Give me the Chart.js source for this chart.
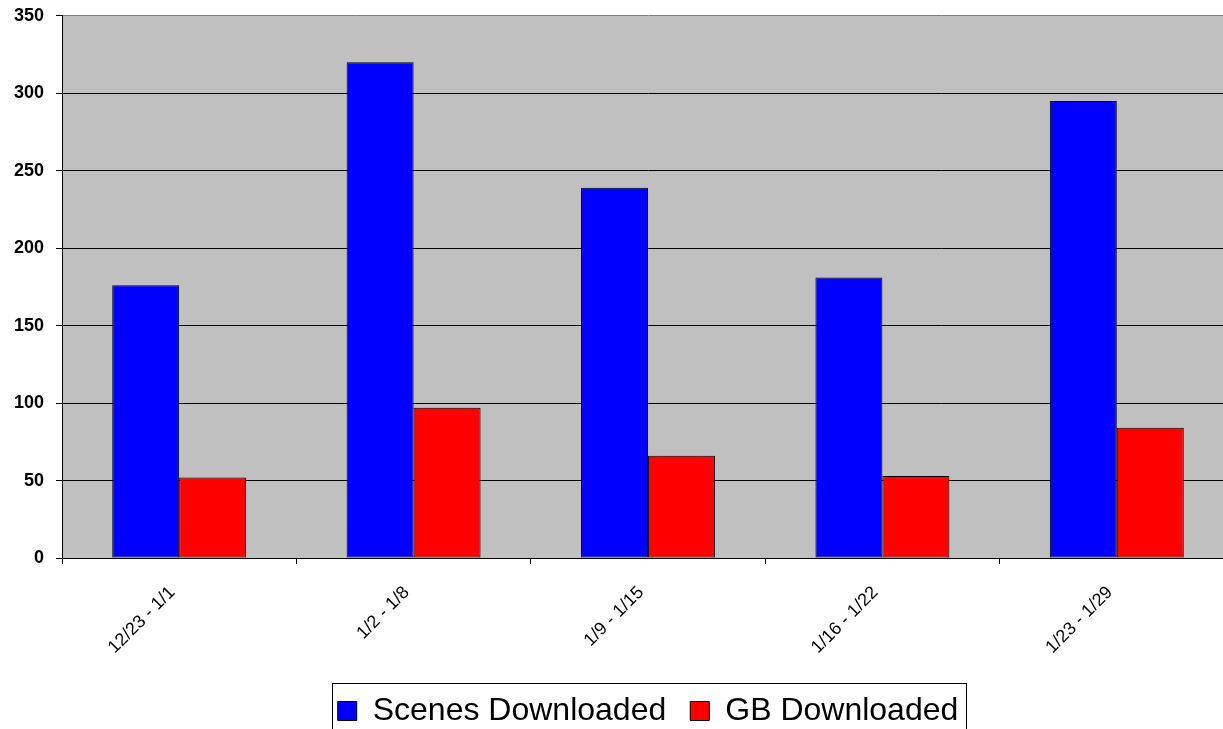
<!DOCTYPE html>
<html>
<head>
<meta charset="utf-8">
<script src="https://cdn.jsdelivr.net/npm/chart.js@4/dist/chart.umd.min.js"></script>
<style>
  html, body { margin: 0; padding: 0; background: #fff; overflow: hidden; }
  #wrap { position: relative; width: 1234px; height: 744px; margin-top: -7px; }
</style>
</head>
<body>
<div id="wrap"><canvas id="c"></canvas></div>
<script>
const categories = ["12/23 - 1/1", "1/2 - 1/8", "1/9 - 1/15", "1/16 - 1/22", "1/23 - 1/29"];
const scenesDownloaded = [176, 320, 239, 181, 295];
const gbDownloaded = [52, 97, 66, 53, 84];
const seriesNames = ["Scenes Downloaded", "GB Downloaded"];

const FONT = "'Liberation Sans', Arial, sans-serif";

const plotBg = {
  id: 'plotBg',
  beforeDraw(chart) {
    const {ctx, chartArea: a} = chart;
    ctx.save();
    ctx.fillStyle = '#C0C0C0';
    ctx.fillRect(a.left, a.top, a.right - a.left, a.bottom - a.top);
    ctx.restore();
  }
};

const legendBorder = {
  id: 'legendBorder',
  afterDraw(chart) {
    const lg = chart.legend;
    if (!lg || !lg.legendHitBoxes || !lg.legendHitBoxes.length) return;
    const hb = lg.legendHitBoxes;
    const left = hb[0].left - 6;
    const right = hb[hb.length - 1].left + hb[hb.length - 1].width + 7;
    const top = hb[0].top - 12;
    const bottom = hb[0].top + hb[0].height + 14;
    const ctx = chart.ctx;
    ctx.save();
    ctx.strokeStyle = '#000';
    ctx.lineWidth = 1;
    ctx.strokeRect(Math.round(left) + 0.5, Math.round(top) + 0.5, Math.round(right - left), Math.round(bottom - top));
    ctx.restore();
  }
};

new Chart(document.getElementById('c'), {
  type: 'bar',
  data: {
    labels: categories,
    datasets: [
      { label: seriesNames[0], data: scenesDownloaded, backgroundColor: '#0000FF', borderColor: '#000', borderWidth: 1, borderSkipped: false },
      { label: seriesNames[1], data: gbDownloaded, backgroundColor: '#FF0000', borderColor: '#000', borderWidth: 1, borderSkipped: false }
    ]
  },
  options: {
    responsive: true,
    maintainAspectRatio: false,
    animation: false,
    layout: { padding: { top: 0, left: 0, right: 0, bottom: 0 } },
    datasets: { bar: { categoryPercentage: 2 / 3.5, barPercentage: 1.0 } },
    plugins: {
      tooltip: { enabled: false },
      legend: {
        position: 'bottom',
        fullSize: false,
        labels: {
          font: { family: FONT, size: 32 },
          color: '#000',
          boxWidth: 19,
          boxHeight: 19,
          padding: 24,
          generateLabels(chart) {
            return chart.data.datasets.map((d, i) => ({
              text: d.label, fillStyle: d.backgroundColor, strokeStyle: '#000', lineWidth: 1, datasetIndex: i, hidden: false
            }));
          }
        }
      }
    },
    scales: {
      x: {
        offset: true,
        afterFit(scale) { scale.height = 113; },
        grid: { offset: true, drawOnChartArea: false, color: '#000', tickLength: 6, tickColor: '#000' },
        border: { color: '#000', width: 1 },
        ticks: { font: { family: FONT, size: 18 }, color: '#000', minRotation: 45, maxRotation: 45, padding: 18, labelOffset: -7 }
      },
      y: {
        min: 0, max: 350,
        afterFit(scale) { scale.width = 62; },
        grid: {
          color: (c) => (c.tick && c.tick.value === 350 ? '#808080' : '#000'),
          tickColor: '#000',
          tickLength: 6,
          lineWidth: 1
        },
        border: { color: '#000', width: 1 },
        ticks: { stepSize: 50, font: { family: FONT, size: 18, weight: 'bold' }, color: '#000', padding: 12 }
      }
    }
  },
  plugins: [plotBg, legendBorder]
});
</script>
</body>
</html>
